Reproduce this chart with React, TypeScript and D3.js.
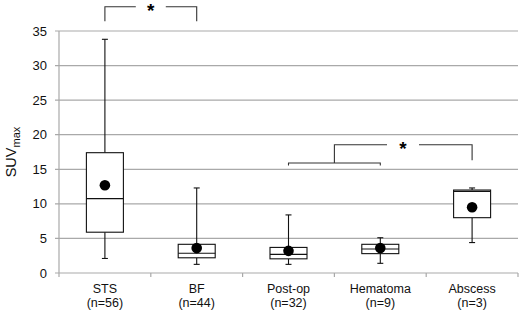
import React from "react";
import * as d3 from "d3";

const categories = ["STS", "BF", "Post-op", "Hematoma", "Abscess"];
const counts = ["(n=56)", "(n=44)", "(n=32)", "(n=9)", "(n=3)"];
const whiskerLow = [2.1, 1.25, 1.25, 1.4, 4.4];
const q1 = [5.9, 2.2, 2.05, 2.8, 8.0];
const median = [10.75, 2.85, 2.7, 3.47, 11.8];
const q3 = [17.4, 4.15, 3.7, 4.15, 12.0];
const whiskerHigh = [33.8, 12.3, 8.4, 5.1, 12.3];
const means = [12.7, 3.6, 3.2, 3.6, 9.5];
const yTicks = [0, 5, 10, 15, 20, 25, 30, 35];

const W = 523;
const H = 311;
const FONT = "'Liberation Sans', Arial, sans-serif";

export default function App() {
  const x = d3.scaleBand<string>().domain(categories).range([59, 518]).padding(0);
  const y = d3.scaleLinear().domain([0, 35]).range([273, 31]);
  const boxW = 37;
  const capW = 6;
  const cx = (i: number) => (x(categories[i]) as number) + x.bandwidth() / 2;
  const grid = "#a9a9a9";
  const br = "#333";

  // bracket 1: STS vs BF
  const b1Top = y(38.5);
  const b1End = y(36.4);
  const b1L = cx(0);
  const b1R = cx(1);
  const b1Mid = (b1L + b1R) / 2;
  // bracket 2: (Post-op, Hematoma) vs Abscess
  const b2Low = y(15.9);
  const b2LowEnd = y(15.55);
  const b2Top = y(18.55);
  const b2End = y(16.3);
  const b2L = cx(2);
  const b2R = cx(3);
  const b2Join = (x(categories[3]) as number);
  const b2Far = cx(4);
  const b2Star = 403;

  return (
    <svg
      width={W}
      height={H}
      style={{ position: "absolute", left: 0, top: 0, background: "#fff" }}
      fontFamily={FONT}
    >
      <rect x={0} y={0} width={W} height={H} fill="#fff" />
      {/* gridlines */}
      {yTicks.map((t) => (
        <line key={"g" + t} x1={55} x2={518} y1={y(t)} y2={y(t)} stroke={grid} strokeWidth={1.2} />
      ))}
      {/* y axis line */}
      <line x1={59} x2={59} y1={y(35)} y2={y(0)} stroke={grid} strokeWidth={1.2} />
      {/* x ticks */}
      {categories.map((c, i) => (
        <line key={"xt" + i} x1={x(c) as number} x2={x(c) as number} y1={y(0)} y2={y(0) + 4} stroke={grid} strokeWidth={1.2} />
      ))}
      <line x1={518} x2={518} y1={y(0)} y2={y(0) + 4} stroke={grid} strokeWidth={1.2} />
      {/* y tick labels */}
      {yTicks.map((t) => (
        <text key={"yl" + t} x={47} y={y(t) + 4.5} textAnchor="end" fontSize={13} fill="#111">
          {t}
        </text>
      ))}
      {/* y label */}
      <text transform={`translate(16,152) rotate(-90)`} textAnchor="middle" fontSize={14.5} fill="#111">
        SUV
        <tspan fontSize={11} dy={4}>max</tspan>
      </text>
      {/* x labels */}
      {categories.map((c, i) => (
        <g key={"xl" + i}>
          <text x={cx(i)} y={293} textAnchor="middle" fontSize={12.5} fill="#111">{c}</text>
          <text x={cx(i)} y={307} textAnchor="middle" fontSize={12.5} fill="#111">{counts[i]}</text>
        </g>
      ))}
      {/* boxes */}
      {categories.map((c, i) => {
        const m = cx(i);
        return (
          <g key={"b" + i} stroke="#111" strokeWidth={1.1}>
            <line x1={m} x2={m} y1={y(whiskerHigh[i])} y2={y(q3[i])} />
            <line x1={m} x2={m} y1={y(q1[i])} y2={y(whiskerLow[i])} />
            <line x1={m - capW / 2} x2={m + capW / 2} y1={y(whiskerHigh[i])} y2={y(whiskerHigh[i])} />
            <line x1={m - capW / 2} x2={m + capW / 2} y1={y(whiskerLow[i])} y2={y(whiskerLow[i])} />
            <rect x={m - boxW / 2} y={y(q3[i])} width={boxW} height={y(q1[i]) - y(q3[i])} fill="#fff" />
            <line x1={m - boxW / 2} x2={m + boxW / 2} y1={y(median[i])} y2={y(median[i])} />
            <circle cx={m} cy={y(means[i])} r={5.3} fill="#000" stroke="none" />
          </g>
        );
      })}
      {/* bracket 1 */}
      <g stroke={br} strokeWidth={1.1} fill="none">
        <polyline points={`${b1L},${b1End} ${b1L},${b1Top} ${b1Mid - 15},${b1Top}`} />
        <polyline points={`${b1Mid + 15},${b1Top} ${b1R},${b1Top} ${b1R},${b1End}`} />
      </g>
      <text x={b1Mid} y={b1Top + 10} textAnchor="middle" fontSize={19} fontWeight="bold" fill="#000">*</text>
      {/* bracket 2 */}
      <g stroke={br} strokeWidth={1.1} fill="none">
        <polyline points={`${b2L},${b2LowEnd} ${b2L},${b2Low} ${b2R},${b2Low} ${b2R},${b2LowEnd}`} />
        <polyline points={`${b2Join},${b2Low} ${b2Join},${b2Top} ${b2Star - 16},${b2Top}`} />
        <polyline points={`${b2Star + 16},${b2Top} ${b2Far},${b2Top} ${b2Far},${b2End}`} />
      </g>
      <text x={b2Star} y={b2Top + 10} textAnchor="middle" fontSize={19} fontWeight="bold" fill="#000">*</text>
    </svg>
  );
}
